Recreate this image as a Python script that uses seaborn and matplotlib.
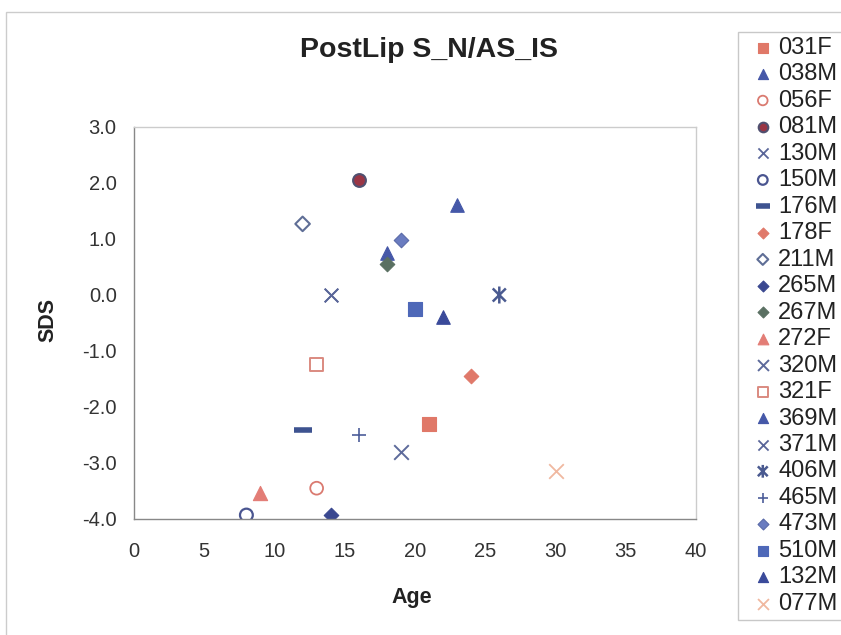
import matplotlib
matplotlib.use("Agg")
import matplotlib.pyplot as plt
import seaborn as sns
from matplotlib.path import Path
from matplotlib.patches import Rectangle

# ---- data ----
names = ["031F", "038M", "056F", "081M", "130M", "150M", "176M", "178F", "211M", "265M", "267M",
         "272F", "320M", "321F", "369M", "371M", "406M", "465M", "473M", "510M", "132M", "077M"]
ages = [21, 18, 13, 16, 14, 8, 12, 24, 12, 14, 18, 9, 19, 13, 23, 14, 26, 16, 19, 20, 22, 30]
sds = [-2.3, 0.75, -3.45, 2.05, 0.0, -3.93, -2.41, -1.45, 1.27, -3.93, 0.56,
       -3.54, -2.8, -1.24, 1.6, 0.0, 0.0, -2.5, 0.99, -0.25, -0.4, -3.14]
x_ticks = [0, 5, 10, 15, 20, 25, 30, 35, 40]
y_ticks = [-4.0, -3.0, -2.0, -1.0, 0.0, 1.0, 2.0, 3.0]

star = Path([(-1, -1), (1, 1), (-1, 1), (1, -1), (0, -1.3), (0, 1.3)],
            [Path.MOVETO, Path.LINETO, Path.MOVETO, Path.LINETO, Path.MOVETO, Path.LINETO])

# marker, facecolor, edgecolor, size, linewidth
styles = {
    "031F": ("s", "#E07868", "#E07868", 95, 0.8),
    "038M": ("^", "#4658A8", "#4658A8", 95, 0.8),
    "056F": ("o", "none", "#DA7A70", 85, 1.3),
    "081M": ("o", "#9A3545", "#505070", 85, 1.5),
    "130M": ("x", "#5A6699", "#5A6699", 95, 1.3),
    "150M": ("o", "none", "#4A5590", 85, 1.6),
    "176M": ("_", "#3E5390", "#3E5390", 160, 4.0),
    "178F": ("D", "#E0796A", "#E0796A", 55, 0.8),
    "211M": ("D", "none", "#5F6E96", 55, 1.5),
    "265M": ("D", "#3A4890", "#3A4890", 55, 0.8),
    "267M": ("D", "#5A7062", "#5A7062", 55, 0.8),
    "272F": ("^", "#E37D76", "#E37D76", 105, 0.8),
    "320M": ("x", "#5D6A9B", "#5D6A9B", 110, 1.4),
    "321F": ("s", "none", "#DA8A80", 95, 1.4),
    "369M": ("^", "#4558A8", "#4558A8", 95, 0.8),
    "371M": ("x", "#5A6699", "#5A6699", 95, 1.3),
    "406M": (star, "none", "#4A5A90", 150, 1.8),
    "465M": ("+", "#4D5E99", "#4D5E99", 110, 1.2),
    "473M": ("D", "#6A7CC0", "#5A6AA8", 55, 0.8),
    "510M": ("s", "#4E68B8", "#4E68B8", 110, 0.8),
    "132M": ("^", "#3A4A9A", "#3A4A9A", 95, 0.8),
    "077M": ("x", "#F0B8A0", "#F0B8A0", 110, 1.3),
}

sns.set_theme(style="white")
plt.rcParams["font.family"] = ["Liberation Sans", "DejaVu Sans"]

W, H = 841, 635
fig = plt.figure(figsize=(W / 100, H / 100), dpi=100)
fig.patch.set_facecolor("white")
ax = fig.add_axes([134 / W, 1 - 519 / H, (696 - 134) / W, (519 - 127) / H])

for n, a, s in zip(names, ages, sds):
    m, fc, ec, size, lw = styles[n]
    if m in ("x", "+", "_"):
        sns.scatterplot(x=[a], y=[s], marker=m, color=ec, s=size, linewidth=lw, ax=ax, label=n)
    else:
        sns.scatterplot(x=[a], y=[s], marker=m, facecolors=fc, edgecolors=ec, s=size,
                        linewidths=lw, ax=ax, label=n)

ax.set_xlim(0, 40)
ax.set_ylim(-4, 3)
ax.set_xticks(x_ticks)
ax.set_xticklabels([str(t) for t in x_ticks])
ax.set_yticks(y_ticks)
ax.set_yticklabels([f"{t:.1f}" for t in y_ticks])
ax.tick_params(axis="both", which="both", direction="out", length=4.5, width=0.8,
               color="#888888", labelsize=14.5, labelcolor="#333333")
ax.tick_params(axis="y", pad=8)
ax.tick_params(axis="x", pad=12)
for side in ["left", "bottom"]:
    ax.spines[side].set_color("#888888")
    ax.spines[side].set_linewidth(1.0)
for side in ["top", "right"]:
    ax.spines[side].set_color("#CCCCCC")
    ax.spines[side].set_linewidth(1.0)
ax.set_xlabel("")
ax.set_ylabel("")

fig.text(429 / W, 1 - 50 / H, "PostLip S_N/AS_IS", ha="center", va="center",
         fontsize=20.5, fontweight="bold", color="#222222")
fig.text(412 / W, 1 - 598 / H, "Age", ha="center", va="center",
         fontsize=15.5, fontweight="bold", color="#222222")
fig.text(48 / W, 1 - 320 / H, "SDS", ha="center", va="center", rotation=90,
         fontsize=15.5, fontweight="bold", color="#222222")

handles, labels = ax.get_legend_handles_labels()
if ax.get_legend():
    ax.get_legend().remove()
leg = fig.legend(handles, labels, loc="upper left", bbox_to_anchor=(738 / W, 1 - 32 / H),
                 frameon=True, fontsize=17, markerscale=0.75, handletextpad=-0.2,
                 handlelength=1.7, labelspacing=0.19, borderpad=0.2, borderaxespad=0,
                 fancybox=False)
leg.get_frame().set_edgecolor("#BBBBBB")
leg.get_frame().set_linewidth(1.0)
for t in leg.get_texts():
    t.set_color("#222222")

# outer chart border
fig.patches.append(Rectangle((6 / W, -0.1), 1.0, 1 - 12 / H + 0.1, transform=fig.transFigure,
                             fill=False, edgecolor="#CCCCCC", linewidth=1.0))

fig.savefig("out.png", dpi=100, facecolor="white")
